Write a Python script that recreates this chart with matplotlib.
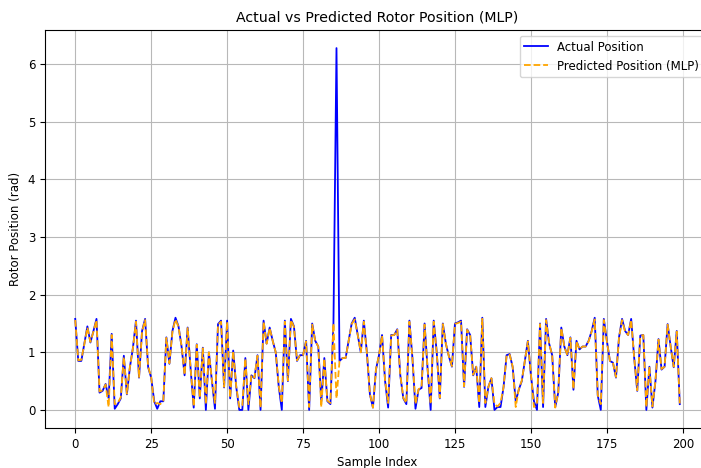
import matplotlib
matplotlib.use("Agg")
import matplotlib.pyplot as plt
import numpy as np

# Rotor position (rad)
actual = [
    1.58, 0.85, 0.85, 1.15, 1.45, 1.17, 1.37, 1.58, 0.30, 0.33,
    0.45, 0.20, 1.32, 0.02, 0.10, 0.20, 0.94, 0.27, 0.74, 1.08,
    1.55, 0.56, 1.37, 1.58, 0.74, 0.56, 0.15, 0.02, 0.15, 0.15,
    1.26, 0.80, 1.37, 1.60, 1.45, 1.10, 0.60, 1.43, 0.70, 0.04,
    1.14, 0.20, 1.08, 0.00, 1.00, 0.50, 0.02, 1.49, 1.55, 0.39,
    1.55, 0.20, 1.03, 0.40, 0.00, 0.00, 0.90, 0.00, 0.60, 0.55,
    0.95, 0.00, 1.55, 1.15, 1.43, 1.20, 1.00, 0.40, 0.00, 1.55,
    0.50, 1.58, 1.45, 0.85, 0.95, 0.95, 1.20, 0.00, 1.50, 1.20,
    1.10, 0.15, 0.90, 0.15, 0.10, 1.50, 6.28, 0.85, 0.90, 0.90,
    1.20, 1.50, 1.60, 1.30, 1.00, 1.55, 1.00, 0.27, 0.04, 0.70,
    0.95, 1.30, 0.50, 0.04, 1.30, 1.30, 1.40, 0.60, 0.20, 0.10,
    1.55, 0.90, 0.02, 0.35, 0.38, 1.50, 0.70, 0.00, 1.55, 1.00,
    0.20, 1.50, 1.15, 0.93, 0.75, 1.50, 1.52, 1.55, 0.40, 1.40,
    1.30, 0.60, 0.75, 0.05, 1.60, 0.05, 0.40, 0.55, 0.00, 0.05,
    0.05, 0.40, 0.95, 0.97, 0.74, 0.15, 0.35, 0.50, 0.85, 1.20,
    0.60, 0.15, 0.00, 1.50, 0.05, 1.58, 1.15, 0.95, 0.05, 0.30,
    1.43, 1.10, 0.95, 1.26, 0.35, 1.20, 1.05, 1.10, 1.10, 1.20,
    1.37, 1.60, 0.25, 0.00, 1.58, 1.20, 0.85, 0.82, 0.56, 1.26,
    1.58, 1.37, 1.30, 1.58, 0.90, 0.33, 1.29, 1.30, 0.00, 0.75,
    0.04, 0.50, 1.23, 0.70, 0.75, 1.49, 1.10, 0.74, 1.37, 0.10,
]

predicted = [
    1.56, 0.86, 0.87, 1.14, 1.43, 1.18, 1.36, 1.56, 0.32, 0.34,
    0.44, 0.05, 1.30, 0.10, 0.12, 0.22, 0.92, 0.28, 0.75, 1.07,
    1.53, 0.57, 1.36, 1.56, 0.75, 0.57, 0.10, 0.12, 0.10, 0.16,
    1.25, 0.81, 1.36, 1.57, 1.44, 1.11, 0.61, 1.42, 0.71, 0.06,
    1.13, 0.21, 1.07, 0.10, 1.00, 0.51, 0.12, 1.48, 1.53, 0.40,
    1.53, 0.21, 1.02, 0.41, 0.05, 0.08, 0.89, 0.10, 0.61, 0.56,
    0.94, 0.04, 1.53, 1.15, 1.42, 1.20, 1.00, 0.41, 0.12, 1.53,
    0.51, 1.56, 1.44, 0.86, 0.95, 0.95, 1.19, 0.05, 1.48, 1.20,
    1.10, 0.05, 0.89, 0.16, 0.12, 1.50, 0.20, 0.85, 0.90, 0.90,
    1.19, 1.49, 1.57, 1.30, 1.00, 1.53, 1.00, 0.28, 0.04, 0.71,
    0.95, 1.29, 0.51, 0.12, 1.29, 1.30, 1.39, 0.61, 0.21, 0.12,
    1.53, 0.90, 0.10, 0.36, 0.39, 1.48, 0.71, 0.10, 1.53, 1.00,
    0.21, 1.49, 1.15, 0.93, 0.76, 1.49, 1.51, 1.53, 0.41, 1.39,
    1.30, 0.61, 0.75, 0.12, 1.58, 0.12, 0.40, 0.55, 0.10, 0.06,
    0.12, 0.40, 0.95, 0.96, 0.75, 0.05, 0.36, 0.51, 0.85, 1.19,
    0.61, 0.05, 0.10, 1.49, 0.12, 1.56, 1.15, 0.95, 0.04, 0.31,
    1.42, 1.10, 0.95, 1.25, 0.36, 1.19, 1.05, 1.10, 1.10, 1.19,
    1.36, 1.57, 0.26, 0.10, 1.56, 1.19, 0.85, 0.82, 0.57, 1.25,
    1.56, 1.36, 1.30, 1.56, 0.90, 0.34, 1.28, 1.30, 0.05, 0.75,
    0.06, 0.51, 1.22, 0.71, 0.75, 1.48, 1.10, 0.75, 1.36, 0.11,
]

sample_idx = np.arange(len(actual))

fig = plt.figure(figsize=(7.01, 4.68), dpi=100)
# axes run past the right edge, as in the reference crop
ax = fig.add_axes([45 / 701, 40 / 468, 665 / 701, 398 / 468])

ax.plot(sample_idx, actual, color='blue', linewidth=1.3, label='Actual Position')
ax.plot(sample_idx, predicted, color='orange', linestyle='--', linewidth=1.3,
        label='Predicted Position (MLP)')

ax.set_title('Actual vs Predicted Rotor Position (MLP)', fontsize=10.2)
ax.set_xlabel('Sample Index', fontsize=8.5)
ax.set_ylabel('Rotor Position (rad)', fontsize=8.5)
ax.tick_params(labelsize=8.5)
ax.grid(True, color='#b8b8b8')
ax.legend(fontsize=8.5)

fig.savefig('out.png', dpi=100)
